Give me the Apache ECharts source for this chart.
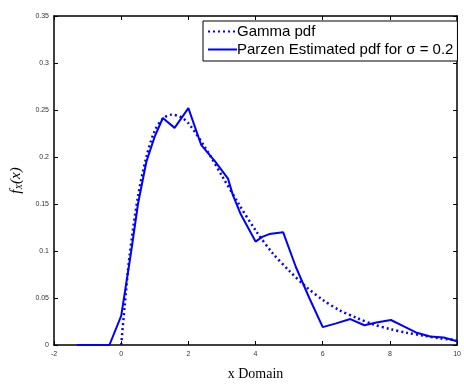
<!DOCTYPE html>
<html>
<head>
<meta charset="utf-8">
<script src="https://cdn.jsdelivr.net/npm/echarts@6/dist/echarts.min.js"></script>
<style>
  html, body { margin: 0; padding: 0; background: #fff; }
  #chart { width: 464px; height: 386px; }
</style>
</head>
<body>
<div id="chart"></div>
<script>
// values
const gammaX = [0, 0.1, 0.25, 0.5, 0.75, 1.0, 1.25, 1.5, 1.75, 2.0, 2.5, 3.0, 3.5, 4.0, 4.5, 5.0, 5.5, 6.0, 6.5, 7.0, 7.5, 8.0, 8.5, 9.0, 9.5, 10];
const gammaY = [0, 0.04, 0.095, 0.158, 0.200, 0.228, 0.241, 0.245, 0.243, 0.236, 0.210, 0.180, 0.150, 0.122, 0.098, 0.079, 0.062, 0.048, 0.037, 0.029, 0.022, 0.017, 0.013, 0.010, 0.007, 0.005];

const parzenX = [-1.32, -0.35, 0, 0.3, 0.5, 0.75, 1.0, 1.24, 1.59, 2.0, 2.38, 2.8, 3.18, 3.32, 3.56, 4.0, 4.2, 4.41, 4.82, 5.2, 5.6, 6.0, 6.4, 6.82, 7.24, 7.6, 8.03, 8.4, 8.8, 9.2, 9.6, 10];
const parzenY = [0, 0, 0.031, 0.1, 0.15, 0.195, 0.222, 0.2415, 0.231, 0.252, 0.213, 0.195, 0.177, 0.160, 0.139, 0.11, 0.115, 0.118, 0.12, 0.083, 0.05, 0.019, 0.023, 0.0276, 0.021, 0.024, 0.0266, 0.02, 0.013, 0.009, 0.008, 0.004];

const xTicks = [-2, 0, 2, 4, 6, 8, 10];
const yTicks = [0, 0.05, 0.1, 0.15, 0.2, 0.25, 0.3, 0.35];

const pairs = (xs, ys) => xs.map((x, i) => [x, ys[i]]);

const chart = echarts.init(document.getElementById('chart'));

const tickStyle = { inside: true, length: 4, lineStyle: { color: '#000', width: 1 } };
const lineAxis = { show: true, onZero: false, lineStyle: { color: '#000', width: 1.5 } };

chart.setOption({
  animation: false,
  backgroundColor: '#fff',
  grid: { left: 54, right: 1, top: 16, bottom: 29 },
  legend: {
    orient: 'vertical',
    left: 203,
    top: 21,
    padding: [3, 4, 4, 4],
    itemWidth: 29,
    itemHeight: 16,
    itemGap: 3,
    borderColor: '#000',
    borderWidth: 1,
    backgroundColor: '#fff',
    itemStyle: { opacity: 0 },
    textStyle: { fontFamily: 'Liberation Sans', fontSize: 15, color: '#000', padding: [0, 0, 0, -5] },
    data: ['Gamma pdf', 'Parzen Estimated pdf for \u03c3 = 0.2']
  },
  xAxis: [{
    type: 'value',
    min: xTicks[0],
    max: xTicks[xTicks.length - 1],
    interval: 2,
    axisLine: lineAxis,
    axisTick: tickStyle,
    splitLine: { show: false },
    axisLabel: { fontSize: 7, color: '#333', margin: 6, fontFamily: 'Liberation Sans' },
    name: 'x Domain',
    nameLocation: 'middle',
    nameGap: 22,
    nameTextStyle: { fontFamily: 'Liberation Serif', fontSize: 14, color: '#000' }
  }, {
    type: 'value',
    position: 'top',
    min: xTicks[0],
    max: xTicks[xTicks.length - 1],
    interval: 2,
    axisLine: lineAxis,
    axisTick: tickStyle,
    axisLabel: { show: false },
    splitLine: { show: false }
  }],
  yAxis: [{
    type: 'value',
    min: yTicks[0],
    max: yTicks[yTicks.length - 1],
    interval: 0.05,
    axisLine: lineAxis,
    axisTick: tickStyle,
    splitLine: { show: false },
    axisLabel: { fontSize: 7, color: '#333', margin: 5, fontFamily: 'Liberation Sans' },
    name: '{f|f}{s|X}{f|(x)}',
    nameLocation: 'middle',
    nameRotate: 90,
    nameGap: 30,
    nameTextStyle: {
      rich: {
        f: { fontFamily: 'Liberation Serif', fontStyle: 'italic', fontSize: 15, color: '#000' },
        s: { fontFamily: 'Liberation Serif', fontStyle: 'italic', fontSize: 9, color: '#000', verticalAlign: 'bottom', padding: [6, 0, 0, 0] }
      }
    }
  }, {
    type: 'value',
    position: 'right',
    min: yTicks[0],
    max: yTicks[yTicks.length - 1],
    interval: 0.05,
    axisLine: lineAxis,
    axisTick: tickStyle,
    axisLabel: { show: false },
    splitLine: { show: false }
  }],
  series: [
    {
      name: 'Gamma pdf',
      type: 'line',
      data: pairs(gammaX, gammaY),
      symbol: 'none',
      smooth: 0.3,
      lineStyle: { color: '#0000ff', width: 2.5, type: [2, 3] },
      itemStyle: { color: '#0000ff' },
      z: 2
    },
    {
      name: 'Parzen Estimated pdf for \u03c3 = 0.2',
      type: 'line',
      data: pairs(parzenX, parzenY),
      symbol: 'none',
      lineStyle: { color: '#0000ff', width: 2 },
      itemStyle: { color: '#0000ff' },
      z: 3
    }
  ]
});
</script>
</body>
</html>
